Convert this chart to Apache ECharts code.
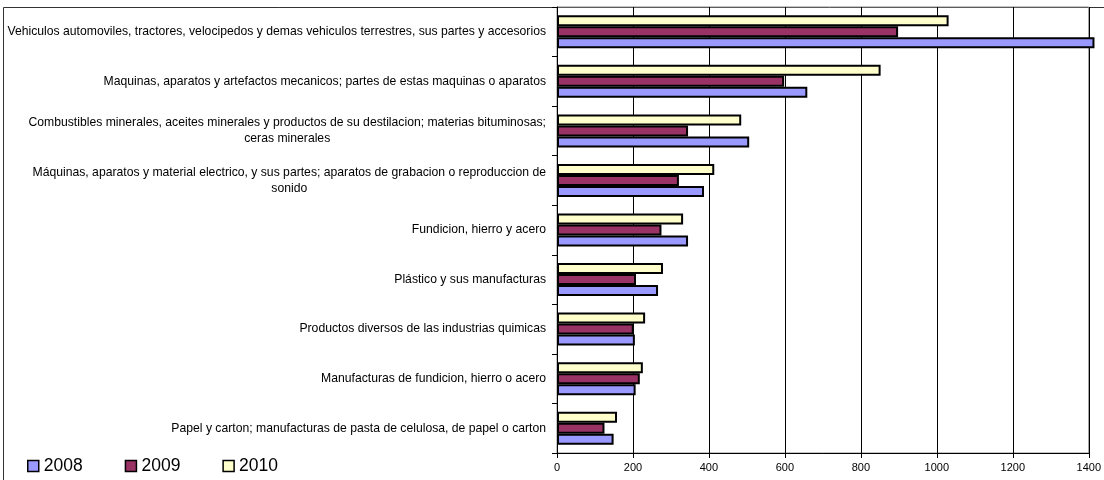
<!DOCTYPE html>
<html>
<head>
<meta charset="utf-8">
<script src="https://cdn.jsdelivr.net/npm/echarts@6/dist/echarts.min.js"></script>
<style>
html,body{margin:0;padding:0;background:#fff;}
#chart{width:1104px;height:480px;}
</style>
</head>
<body>
<div id="chart"></div>
<script>
// Categories, top to bottom
const categories = [
  "Vehiculos automoviles, tractores, velocipedos y demas vehiculos terrestres, sus partes y accesorios",
  "Maquinas, aparatos y artefactos mecanicos; partes de estas maquinas o aparatos",
  "Combustibles minerales, aceites minerales y productos de su destilacion; materias bituminosas;\nceras minerales",
  "Máquinas, aparatos y material electrico, y sus partes; aparatos de grabacion o reproduccion de\nsonido",
  "Fundicion, hierro y acero",
  "Plástico y sus manufacturas",
  "Productos diversos de las industrias quimicas",
  "Manufacturas de fundicion, hierro o acero",
  "Papel y carton; manufacturas de pasta de celulosa, de papel o carton"
];
const values2008 = [1415, 659, 506, 387, 345, 266, 205, 207, 149];
const values2009 = [898, 598, 345, 321, 275, 208, 202, 218, 125];
const values2010 = [1031, 852, 485, 414, 332, 279, 232, 226, 158];
const xTicks = { min: 0, max: 1400, interval: 200 };
const seriesNames = ["2008", "2009", "2010"];

const FONT = "Liberation Sans, Arial, sans-serif";
const colors = { "2008": "#9999FF", "2009": "#993366", "2010": "#FFFFCC" };
const dataByName = { "2008": values2008, "2009": values2009, "2010": values2010 };

const chart = echarts.init(document.getElementById("chart"), null, { renderer: "canvas" });

// drawing order: 2010 (top of each group), 2009, 2008 (bottom)
const drawOrder = ["2010", "2009", "2008"];
const series = drawOrder.map(name => ({
  name: name,
  type: "bar",
  data: dataByName[name],
  barWidth: 11,
  barGap: "0%",
  clip: false,
  itemStyle: { color: colors[name], borderColor: "#000", borderWidth: 2 },
  emphasis: { disabled: true },
  animation: false
}));

chart.setOption({
  animation: false,
  textStyle: { fontFamily: FONT },
  grid: {
    left: 557, right: 11, top: 7, bottom: 27,
    show: true, borderColor: "#888", borderWidth: 1, backgroundColor: "transparent"
  },
  graphic: [{
    type: "rect",
    shape: { x: 3.5, y: 7.5, width: 1300, height: 600 },
    style: { fill: "none", stroke: "#333", lineWidth: 1 },
    silent: true, z: -1
  }],
  legend: {
    data: seriesNames,
    left: 27, top: 457, padding: 0,
    itemWidth: 11, itemHeight: 11, itemGap: 42,
    icon: "rect",
    itemStyle: { borderColor: "#000", borderWidth: 1.5 },
    textStyle: { fontFamily: FONT, fontSize: 17.5, color: "#000" },
    selectedMode: false
  },
  xAxis: {
    type: "value",
    min: xTicks.min, max: xTicks.max, interval: xTicks.interval,
    axisLine: { show: true, lineStyle: { color: "#000", width: 1 } },
    axisTick: { show: true, length: 5, lineStyle: { color: "#000" } },
    axisLabel: { color: "#000", fontSize: 11, fontFamily: FONT, margin: 9, formatter: v => String(v) },
    splitLine: { show: true, lineStyle: { color: "#000", width: 1 } }
  },
  yAxis: {
    type: "category",
    data: categories,
    inverse: true,
    axisLine: { show: true, lineStyle: { color: "#000", width: 1 } },
    axisTick: { show: true, length: 5, alignWithLabel: false, lineStyle: { color: "#000" } },
    axisLabel: {
      margin: 11,
      color: "#000",
      interval: 0,
      formatter: v => v.split("\n").map(s => "{c|" + s + "}").join("\n"),
      rich: { c: { align: "center", fontSize: 12.2, lineHeight: 16, fontFamily: FONT, color: "#000" } }
    },
    splitLine: { show: false }
  },
  series: series
});
</script>
</body>
</html>
